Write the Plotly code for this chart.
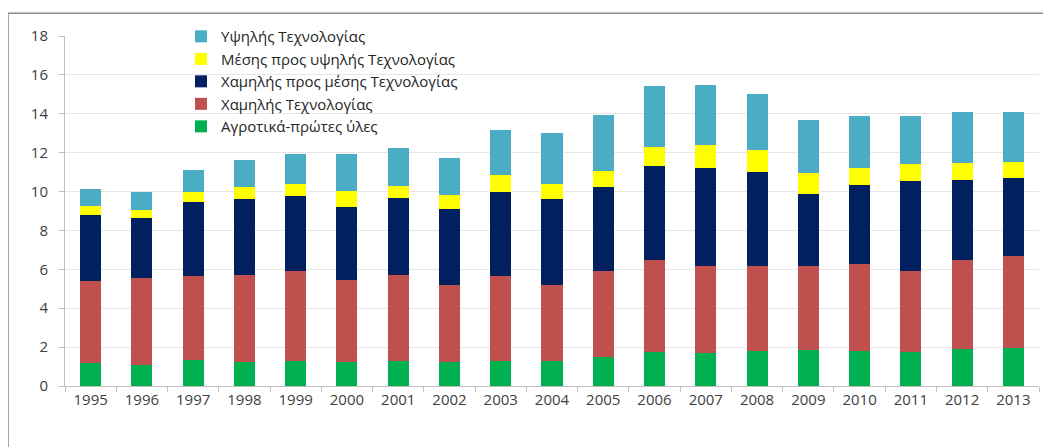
import plotly.graph_objects as go

years = [str(y) for y in range(1995, 2014)]

agro = [1.16, 1.07, 1.33, 1.23, 1.28, 1.23, 1.28, 1.23, 1.28, 1.30, 1.50, 1.77, 1.70, 1.81, 1.87, 1.81, 1.77, 1.91, 1.98]
low_tech = [4.26, 4.47, 4.33, 4.50, 4.65, 4.22, 4.45, 3.99, 4.38, 3.88, 4.41, 4.72, 4.45, 4.34, 4.28, 4.48, 4.14, 4.58, 4.72]
low_mid_tech = [3.39, 3.08, 3.80, 3.87, 3.84, 3.75, 3.93, 3.90, 4.31, 4.45, 4.30, 4.83, 5.07, 4.86, 3.75, 4.04, 4.61, 4.11, 3.99]
mid_high_tech = [0.45, 0.45, 0.54, 0.64, 0.64, 0.84, 0.65, 0.68, 0.87, 0.78, 0.87, 0.97, 1.17, 1.11, 1.08, 0.90, 0.90, 0.87, 0.85]
high_tech = [0.88, 0.90, 1.13, 1.40, 1.52, 1.89, 1.94, 1.94, 2.34, 2.58, 2.85, 3.12, 3.10, 2.91, 2.69, 2.64, 2.49, 2.61, 2.57]

series_names = [
    "Αγροτικά-πρώτες ύλες",
    "Χαμηλής Τεχνολογίας",
    "Χαμηλής προς μέσης Τεχνολογίας",
    "Μέσης προς υψηλής Τεχνολογίας",
    "Υψηλής Τεχνολογίας",
]
series_values = [agro, low_tech, low_mid_tech, mid_high_tech, high_tech]
series_colors = ["#00B050", "#C0504D", "#002060", "#FFFF00", "#4BACC6"]

fig = go.Figure()
for name, vals, col in zip(series_names, series_values, series_colors):
    fig.add_trace(go.Bar(x=years, y=vals, name=name, marker=dict(color=col, line=dict(width=0))))

# page body has an 8px margin; work in screen pixels and shift
OFF = 8
W, H = 1051 - OFF, 447 - OFF
# screen positions of the plot area
sx0, sx1, sy0, sy1 = 65, 1039, 34, 386
ml, mr, mt, mb = sx0 - OFF, W - (sx1 - OFF), sy0 - OFF, H - (sy1 - OFF)
pw = W - ml - mr
ph = H - mt - mb

def px_x(p):
    return (p - OFF - ml) / pw

def px_y(p):
    return (H - mb - (p - OFF)) / ph

fig.update_layout(
    width=W, height=H,
    margin=dict(l=ml, r=mr, t=mt, b=mb),
    barmode="stack",
    bargap=0.59,
    paper_bgcolor="white",
    plot_bgcolor="white",
    font=dict(family="Open Sans, Noto Sans, sans-serif", color="#404040", size=14),
    showlegend=True,
    legend=dict(
        x=px_x(181), y=px_y(18), xanchor="left", yanchor="top",
        traceorder="reversed",
        bgcolor="rgba(0,0,0,0)",
        font=dict(size=15, color="#262626"),
        itemwidth=30,
    ),
    xaxis=dict(
        showline=True, linecolor="#BFBFBF", linewidth=1,
        ticks="outside", ticklen=5, tickcolor="#BFBFBF",
        tickson="boundaries",
        showgrid=False,
        tickfont=dict(size=15, color="#404040"),
    ),
    yaxis=dict(
        range=[0, 18], dtick=2,
        showline=True, linecolor="#BFBFBF", linewidth=1,
        ticks="outside", ticklen=5, tickcolor="#BFBFBF",
        showgrid=True, gridcolor="#E6E6E6", gridwidth=1,
        zeroline=False,
        tickfont=dict(size=15, color="#404040"),
        ticklabelstandoff=8,
    ),
    shapes=[dict(
        type="rect", xref="paper", yref="paper",
        x0=px_x(8), x1=px_x(1070), y0=px_y(470), y1=px_y(11),
        line=dict(color="#8C8C8C", width=1.5), fillcolor="rgba(0,0,0,0)", layer="below",
    )],
)

fig.write_html("out.html")
